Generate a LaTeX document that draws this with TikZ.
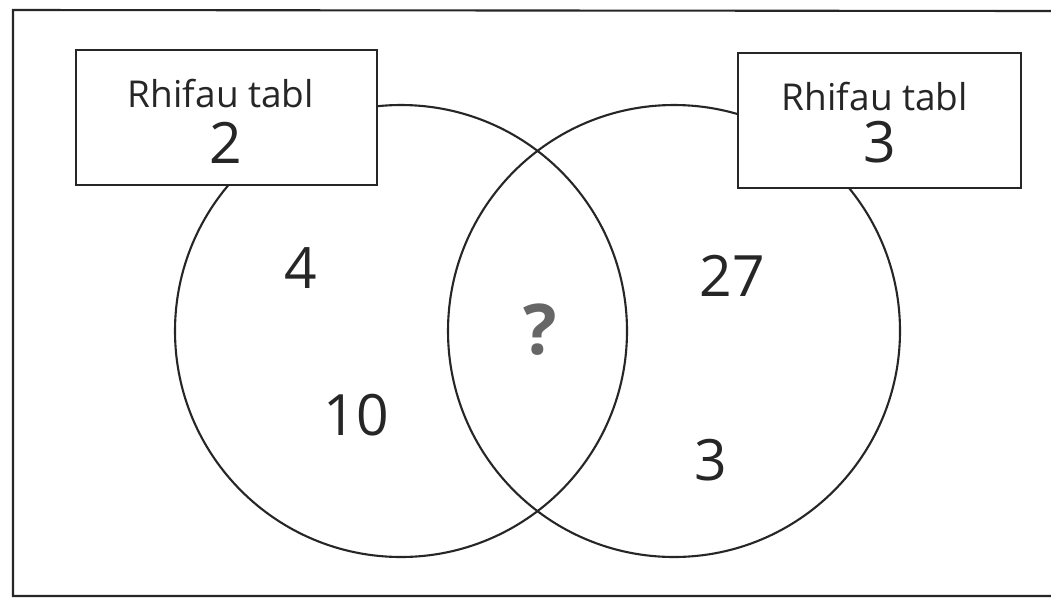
\documentclass[tikz,border=0pt]{standalone}
\usepackage{fontspec}
\setmainfont{Open Sans}
\begin{document}
\begin{tikzpicture}[x=1pt,y=-1pt,
  line/.style={draw=black!85,line width=2.1pt},
  setc/.style={line,circle,minimum size=452pt,inner sep=0pt},
  labelbox/.style={line,fill=white,minimum width=301pt,minimum height=135pt,inner sep=0pt},
  boxhead/.style={font=\fontsize{37}{40}\selectfont,text=black!85},
  boxnum/.style={font=\fontsize{57}{60}\selectfont,text=black!85},
  elem/.style={font=\fontsize{57}{60}\selectfont,text=black!85}]
\useasboundingbox (0,0) rectangle (1051,598);
\fill[white] (0,0) rectangle (1051,598);
% outer frame
\draw[line] (1051,11) -- (13,10) -- (13,596) -- (1051,596);
% sets
\node[setc] (A) at (401,331) {};
\node[setc] (B) at (674,331) {};
% label boxes
\node[labelbox] (LA) at (226.5,117.5) {};
\node[labelbox,minimum width=283pt] (LB) at (879.5,120.5) {};
\node[boxhead,anchor=base] (LAt) at (221,107) {Rhifau tabl};
\node[boxnum] (LAn) at (226,143) {2};
\node[boxhead,anchor=base] (LBt) at (875,110) {Rhifau tabl};
\node[boxnum] (LBn) at (880,142) {3};
% elements
\node[elem] (e4) at (301,268) {4};
\node[elem] (e10) at (356,415) {10};
\node[elem] (e27) at (732,276) {27};
\node[elem] (e3) at (711,460) {3};
\node[font=\fontsize{70}{74}\selectfont\bfseries,text=black!60] (q) at (540,330) {?};
\end{tikzpicture}
\end{document}
